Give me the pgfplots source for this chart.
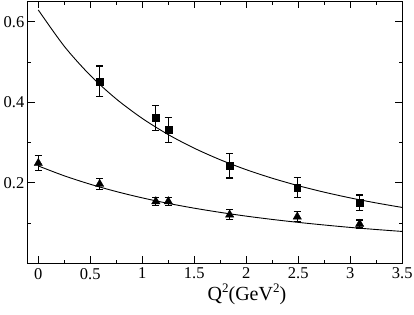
\documentclass[border=0pt]{standalone}
\usepackage{fontspec}
\setmainfont{Liberation Serif}
\usepackage{pgfplots}
\pgfplotsset{compat=1.18}
\newcommand{\sq}{\raisebox{8pt}{\fontsize{13}{13}\selectfont 2}}
\begin{document}
\begin{tikzpicture}
\begin{axis}[
  scale only axis,
  width=374.4pt, height=262pt,
  at={(27.9pt,51.5pt)}, anchor=south west,
  xmin=-0.1, xmax=3.5, ymin=0, ymax=0.65,
  xtick={0,0.5,1,1.5,2,2.5,3,3.5},
  xticklabels={0,0.5,1,1.5,2,2.5,3,3.5},
  minor xtick={0.25,0.75,1.25,1.75,2.25,2.75,3.25},
  ytick={0.2,0.4,0.6},
  yticklabels={0.2,0.4,0.6},
  minor ytick={0.1,0.3,0.5},
  tick align=inside,
  major tick length=7pt, minor tick length=3.5pt,
  tick style={black, line width=0.9pt},
  axis line style={line width=1pt},
  ticklabel style={font=\fontsize{16.5}{18}\selectfont},
  /pgf/number format/assume math mode=true,
  xticklabel style={yshift=-1pt},
  xlabel={Q\sq(GeV\sq)},
  xlabel style={font=\fontsize{20}{22}\selectfont, at={(axis description cs:0.585,-0.143)}, anchor=base},
  clip=false,
]
\addplot[black, line width=0.9pt, smooth] coordinates {
(0,0.629) (0.25,0.5388) (0.5,0.4666) (0.75,0.4081) (1.0,0.3599) (1.25,0.3197)
(1.5,0.2860) (1.75,0.2573) (2.0,0.2327) (2.25,0.2115) (2.5,0.1930) (2.75,0.1769)
(3.0,0.1627) (3.25,0.1502) (3.5,0.1390)};
\addplot[black, line width=0.9pt, smooth] coordinates {
(0,0.242) (0.25,0.2175) (0.5,0.1966) (0.75,0.1785) (1.0,0.1628) (1.25,0.1491)
(1.5,0.1372) (1.75,0.1268) (2.0,0.1175) (2.25,0.1093) (2.5,0.1020) (2.75,0.0955)
(3.0,0.0895) (3.25,0.0843) (3.5,0.0795)};
\addplot[black, only marks, mark=square*, mark size=3.4pt,
  error bars/.cd, y dir=both, y explicit,
  error bar style={line width=1.1pt},
  error mark options={rotate=90, mark size=3.6pt, line width=1.1pt}]
coordinates {
(0.59,0.452) +- (0,0.038)
(1.13,0.361) +- (0,0.030)
(1.25,0.331) +- (0,0.031)
(1.84,0.242) +- (0,0.030)
(2.49,0.189) +- (0,0.025)
(3.09,0.151) +- (0,0.019)};
\addplot[black, only marks, mark=triangle*, mark size=4.8pt,
  error bars/.cd, y dir=both, y explicit,
  error bar style={line width=1.1pt},
  error mark options={rotate=90, mark size=3.6pt, line width=1.1pt}]
coordinates {
(0,0.249) +- (0,0.018)
(0.59,0.197) +- (0,0.013)
(1.13,0.154) +- (0,0.010)
(1.25,0.154) +- (0,0.010)
(1.84,0.121) +- (0,0.012)
(2.49,0.116) +- (0,0.012)
(3.09,0.098) +- (0,0.010)};
\end{axis}
\pgfresetboundingbox
\path (0,0) rectangle (414pt,315pt);
\end{tikzpicture}
\end{document}
